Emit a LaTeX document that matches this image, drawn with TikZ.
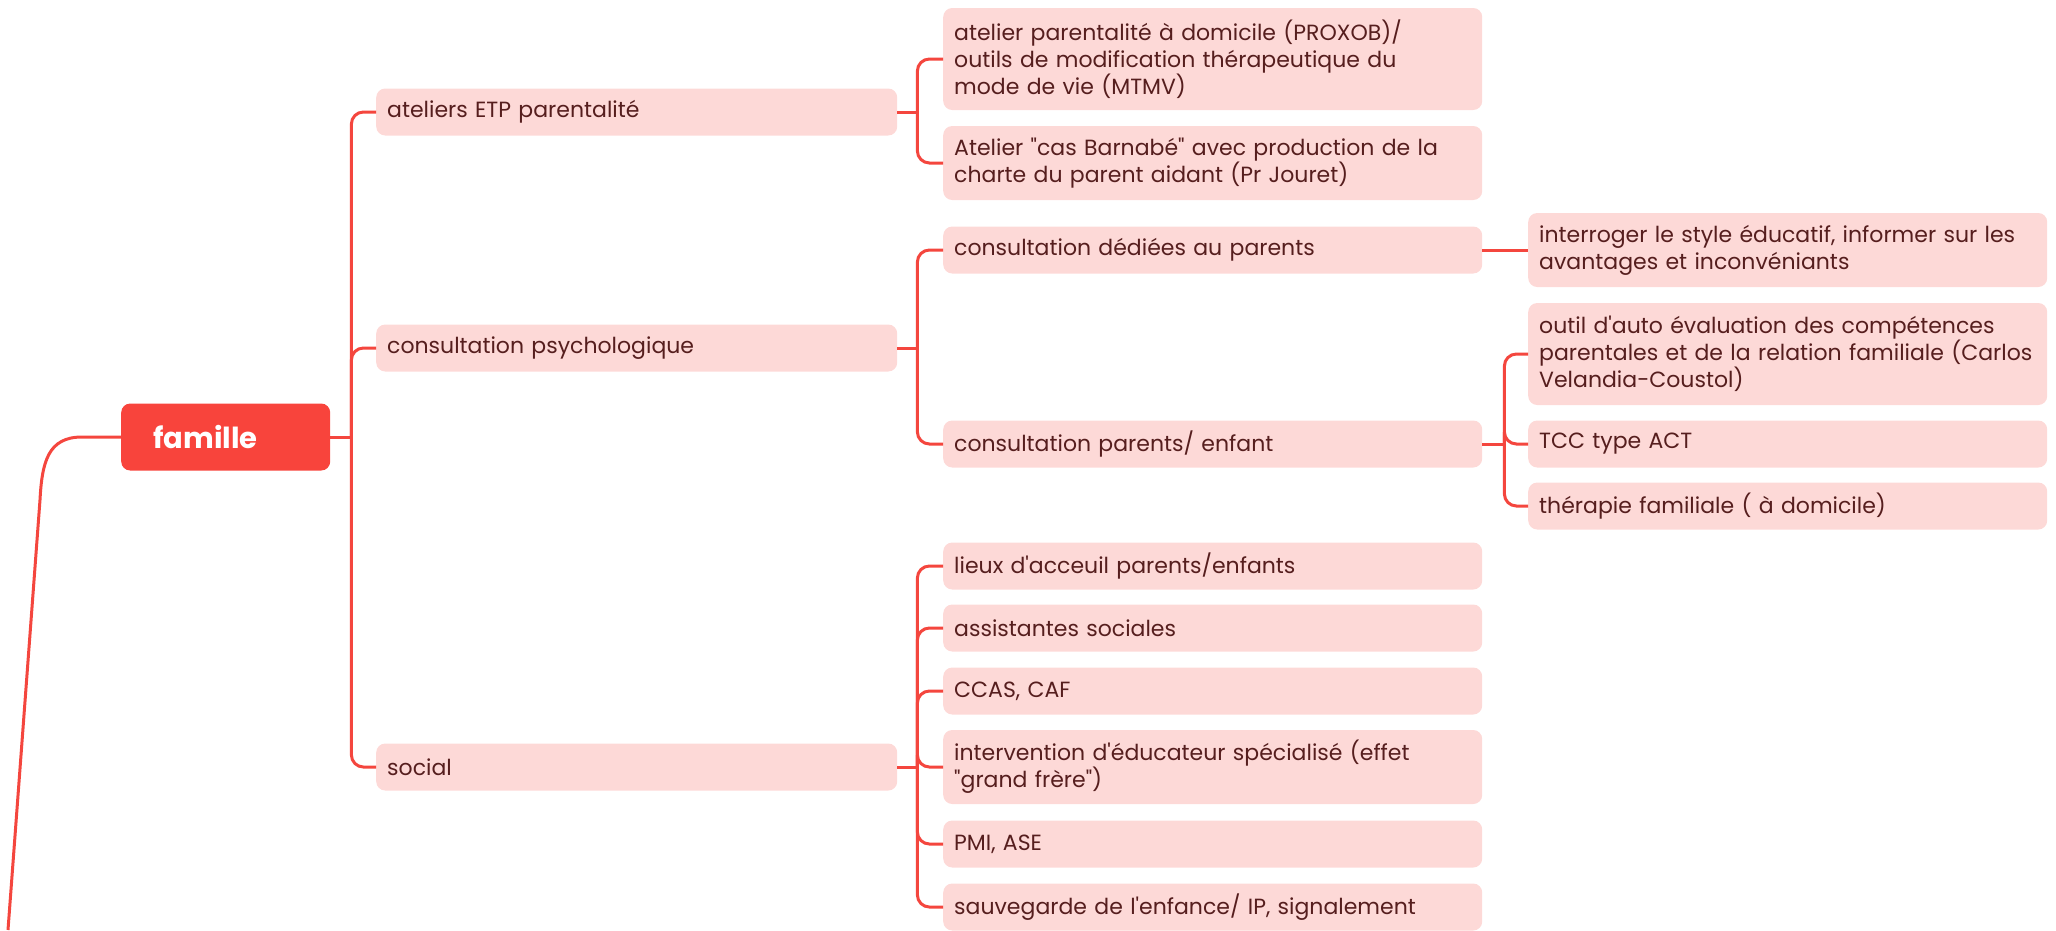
\documentclass[tikz,border=0pt]{standalone}
\usepackage{fontspec}
\setmainfont{Poppins}[Ligatures=TeXOff]
\usetikzlibrary{positioning}
\definecolor{branch}{HTML}{F4463E}
\definecolor{rootred}{HTML}{F8443C}
\definecolor{leaf}{HTML}{FDD9D7}
\definecolor{ink}{HTML}{561E1E}
\tikzset{
  root/.style={fill=rootred, rounded corners=9pt, text=white, anchor=west,
               text width=145pt, inner xsep=32pt, inner ysep=0pt, minimum height=67pt,
               align=left, font=\fontsize{29}{34}\selectfont\bfseries},
  topic/.style={fill=leaf, rounded corners=9pt, text=ink, anchor=west, align=left,
                inner xsep=11pt, inner ysep=0pt, font=\fontsize{22}{27}\selectfont},
  lvone/.style={topic, text width=499pt},
  lvtwo/.style={topic, text width=517pt},
  lvthree/.style={topic, text width=497pt},
  one/.style={minimum height=47pt},
  two/.style={minimum height=74pt},
  three/.style={minimum height=102pt},
  link/.style={draw=branch, line width=3pt, rounded corners=12pt}
}
\begin{document}
\begin{tikzpicture}[x=1pt,y=-1pt]
  \useasboundingbox (0,0) rectangle (2056,930);
  \node[root] (fam) at (121,437) {famille};
  \coordinate (stem) at (8,930);

  \node[lvone,one] (etp) at (376,112) {ateliers ETP parentalité};
  \node[lvone,one] (psy) at (376,348) {consultation psychologique};
  \node[lvone,one] (soc) at (376,767) {social};

  \node[lvtwo,three] (etpa) at (943,59) {atelier parentalité à domicile (PROXOB)/\\outils de modification thérapeutique du\\mode de vie (MTMV)};
  \node[lvtwo,two] (etpb) at (943,163) {Atelier "cas Barnabé" avec production de la\\charte du parent aidant (Pr Jouret)};
  \node[lvtwo,one] (psya) at (943,250) {consultation dédiées au parents};
  \node[lvtwo,one] (psyb) at (943,444) {consultation parents/ enfant};
  \node[lvtwo,one] (soca) at (943,566) {lieux d'acceuil parents/enfants};
  \node[lvtwo,one] (socb) at (943,628) {assistantes sociales};
  \node[lvtwo,one] (socc) at (943,691) {CCAS, CAF};
  \node[lvtwo,two] (socd) at (943,767) {intervention d'éducateur spécialisé (effet\\"grand frère")};
  \node[lvtwo,one] (soce) at (943,844) {PMI, ASE};
  \node[lvtwo,one] (socf) at (943,907) {sauvegarde de l'enfance/ IP, signalement};

  \node[lvthree,two] (psya1) at (1528,250) {interroger le style éducatif, informer sur les\\avantages et inconvéniants};
  \node[lvthree,three] (psyb1) at (1528,354) {outil d'auto évaluation des compétences\\parentales et de la relation familiale (Carlos\\Velandia-Coustol)};
  \node[lvthree,one] (psyb2) at (1528,444) {TCC type ACT};
  \node[lvthree,one] (psyb3) at (1528,506) {thérapie familiale ( à domicile)};

  % branches
  \draw[link,rounded corners=0pt] (fam.west) -- (82,437) .. controls (48,437) and (42,462) .. (40,500) -- (stem);
  \draw[link] (fam.east) -- ++(21,0) coordinate (famj);
  \foreach \c in {etp,psy,soc} \draw[link] (famj) |- (\c.west);
  \draw[link] (etp.east) -- ++(20,0) coordinate (etpj);
  \foreach \c in {etpa,etpb} \draw[link] (etpj) |- (\c.west);
  \draw[link] (psy.east) -- ++(20,0) coordinate (psyj);
  \foreach \c in {psya,psyb} \draw[link] (psyj) |- (\c.west);
  \draw[link] (soc.east) -- ++(20,0) coordinate (socj);
  \foreach \c in {soca,socb,socc,socd,soce,socf} \draw[link] (socj) |- (\c.west);
  \draw[link] (psya.east) -- (psya1.west);
  \draw[link] (psyb.east) -- ++(22,0) coordinate (psybj);
  \foreach \c in {psyb1,psyb2,psyb3} \draw[link] (psybj) |- (\c.west);
\end{tikzpicture}
\end{document}
